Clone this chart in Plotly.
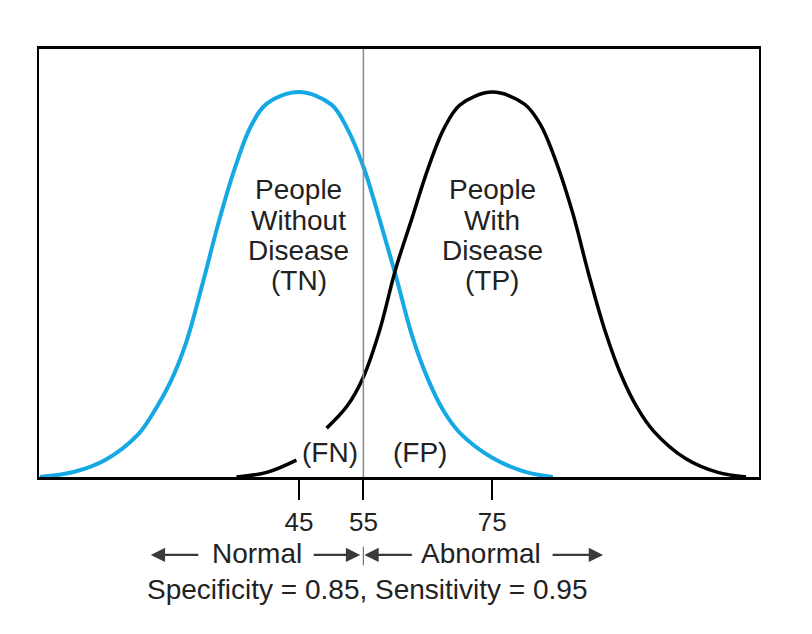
import plotly.graph_objects as go

# curves (x = test value, y = relative frequency, peak = 100)
no_disease_x = [4.8, 10, 15, 20, 22.5, 25, 27.5, 30, 32.5, 35, 37.5, 40, 45,
                50, 52.5, 55, 57.5, 60, 62.5, 65, 67.5, 70, 75, 80, 84.4]
no_disease_y = [0.0, 1.3, 4.5, 11.0, 17.0, 24.5, 35.0, 50.0, 66.0, 80.0, 91.0, 97.0, 100.0,
                96.8, 90.5, 80.6, 67.0, 52.5, 37.0, 25.5, 17.0, 11.4, 5.0, 1.4, 0.0]

# None marks the break in the line behind the "(FN)" label
disease_x = [35.3, 40, 44.6, 47.0, 49.3, 52.5, 55, 57.5, 60, 62.5, 65, 67.5, 70, 75,
             80, 82.5, 85, 87.5, 90, 92.5, 95, 97.5, 100, 105, 110, 114.4]
disease_y = [0.0, 1.2, 4.4, None, 12.7, 18.5, 26.0, 38.0, 54.0, 67.0, 80.0, 90.5, 96.7, 100.0,
             96.9, 91.5, 81.5, 68.5, 52.5, 38.0, 26.5, 18.0, 12.0, 4.8, 1.2, 0.0]

tick_vals = [45, 55, 75]
cutoff = 55

label_tn = ["People", "Without", "Disease", "(TN)"]
label_tp = ["People", "With", "Disease", "(TP)"]
footer = "Specificity = 0.85, Sensitivity = 0.95"

FONT = "Liberation Sans, Arial, sans-serif"
TXT = "#222222"


def note(x, y, text, size=28):
    fig.add_annotation(x=x, y=y, yref="paper", text=text, showarrow=False,
                       xanchor="center", yanchor="middle",
                       font=dict(size=size, color=TXT))


fig = go.Figure()
fig.add_trace(go.Scatter(x=no_disease_x, y=no_disease_y, mode="lines",
                         line=dict(color="#14a8e4", width=4, shape="spline", smoothing=1)))
fig.add_trace(go.Scatter(x=disease_x, y=disease_y, mode="lines", connectgaps=False,
                         line=dict(color="#000000", width=3.5, shape="spline", smoothing=1)))

# cutoff line
fig.add_shape(type="line", x0=cutoff, x1=cutoff, yref="paper", y0=0, y1=1,
              line=dict(color="#8a8a8a", width=1.5))
# little divider between Normal / Abnormal
fig.add_shape(type="line", x0=cutoff, x1=cutoff, yref="paper", y0=-0.163, y1=-0.206,
              line=dict(color="#777777", width=1.2))

line_y = [0.671, 0.600, 0.529, 0.459]
for i, t in enumerate(label_tn):
    note(45, line_y[i], t)
for i, t in enumerate(label_tp):
    note(75, line_y[i], t)

note(49.8, 0.058, "(FN)")
note(63.8, 0.058, "(FP)")
note(38.5, -0.178, "Normal")
note(73.2, -0.178, "Abnormal")
note(55.6, -0.264, footer)

# arrows: (tip x, tail offset in px)
for tip, off in [(22.0, 49), (54.5, -48), (55.15, 49), (92.2, -52)]:
    fig.add_annotation(x=tip, y=-0.182, yref="paper", ax=off, ay=0, text="",
                       showarrow=True, arrowhead=2, arrowsize=1.3, arrowwidth=2.2,
                       arrowcolor="#3a3a3a", standoff=0)

fig.update_layout(
    width=812, height=634,
    margin=dict(l=31, r=61, t=41, b=165),
    paper_bgcolor="white", plot_bgcolor="white",
    showlegend=False,
    font=dict(family=FONT, color=TXT),
    xaxis=dict(range=[4.65, 116.4], tickvals=tick_vals, ticks="outside", ticklen=20,
               tickwidth=2, tickcolor="black", showgrid=False, zeroline=False,
               showline=True, linewidth=2.5, linecolor="black", mirror=True,
               tickfont=dict(size=26, color=TXT)),
    yaxis=dict(range=[0, 111.2], showticklabels=False, showgrid=False, zeroline=False,
               showline=True, linewidth=2, linecolor="black", mirror=True),
)

fig.write_html("out.html")
